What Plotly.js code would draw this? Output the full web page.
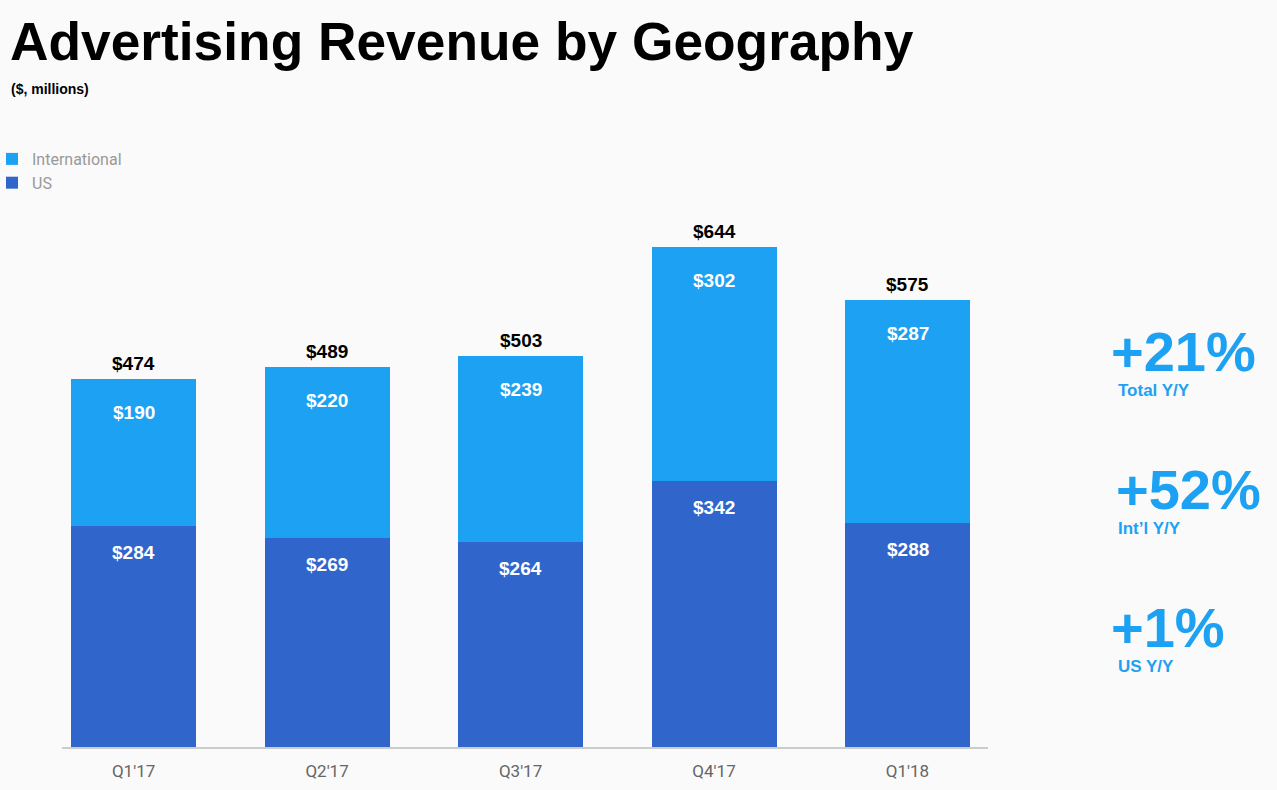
<!DOCTYPE html>
<html><head><meta charset="utf-8">
<script src="https://cdn.plot.ly/plotly-3.0.1.min.js"></script>
<style>html,body{margin:0;padding:0;background:#fafafa;}#chart{width:1277px;height:790px;}</style>
</head><body><div id="chart"></div>
<script>
const quarters = ["Q1'17", "Q2'17", "Q3'17", "Q4'17", "Q1'18"];
const usRevenue = [284, 269, 264, 342, 288];
const intlRevenue = [190, 220, 239, 302, 287];
const totalRevenue = [474, 489, 503, 644, 575];
const growthValues = ["+21%", "+52%", "+1%"];
const growthLabels = ["Total Y/Y", "Int\u2019l Y/Y", "US Y/Y"];

const blueLight = '#1DA1F2';
const blueDark = '#3066CB';
const FONT = 'Liberation Sans, Arial, sans-serif';

const traces = [
  {type:'bar', name:'US', x:quarters, y:usRevenue, marker:{color:blueDark}, width:0.646, hoverinfo:'skip'},
  {type:'bar', name:'International', x:quarters, y:intlRevenue, marker:{color:blueLight}, width:0.646, hoverinfo:'skip'}
];

// plot area geometry (px) for paper conversions
const L = 62, T = 203, W = 926, H = 544;
const px = v => (v - L) / W;
const py = v => (T + H - v) / H;

const annotations = [];
quarters.forEach((q, i) => {
  annotations.push({x:q, y:totalRevenue[i], xref:'x', yref:'y', text:'$' + totalRevenue[i], showarrow:false,
    yanchor:'bottom', yshift:3, font:{family:FONT, size:19, color:'#000', weight:'bold'}});
  annotations.push({x:q, y:usRevenue[i] + intlRevenue[i], xref:'x', yref:'y', text:'$' + intlRevenue[i], showarrow:false,
    yanchor:'top', yshift:-21, font:{family:FONT, size:19, color:'#fff', weight:'bold'}});
  annotations.push({x:q, y:usRevenue[i], xref:'x', yref:'y', text:'$' + usRevenue[i], showarrow:false,
    yanchor:'top', yshift:-14, font:{family:FONT, size:19, color:'#fff', weight:'bold'}});
});
annotations.push({xref:'paper', yref:'paper', x:px(10), y:py(89), xanchor:'left', yanchor:'middle', showarrow:false,
  borderpad:0, text:'<b>($, millions)</b>', font:{family:FONT, size:14, color:'#000'}});
const gx = [1110, 1115, 1110];
const gy = [351, 489, 627];
const lx = [1117, 1117, 1117];
const ly = [390, 528, 666];
growthValues.forEach((g, i) => {
  annotations.push({xref:'paper', yref:'paper', x:px(gx[i]), y:py(gy[i]), xanchor:'left', yanchor:'middle', showarrow:false,
    borderpad:0, height:46, valign:'middle',
    text:'<b>' + g + '</b>', font:{family:FONT, size:56, color:blueLight}});
  annotations.push({xref:'paper', yref:'paper', x:px(lx[i]), y:py(ly[i]), xanchor:'left', yanchor:'middle', showarrow:false,
    borderpad:0, height:18, valign:'middle',
    text:'<b>' + growthLabels[i] + '</b>', font:{family:FONT, size:17, color:blueLight}});
});

const layout = {
  width:1277, height:790,
  paper_bgcolor:'#fafafa', plot_bgcolor:'#fafafa',
  margin:{l:L, r:1277 - L - W, t:T, b:790 - T - H, pad:0, autoexpand:false},
  barmode:'stack',
  showlegend:true,
  legend:{x:px(-8), y:py(142), xanchor:'left', yanchor:'top', orientation:'v',
    font:{family:'Roboto, sans-serif', size:16, color:'#999'}, bgcolor:'rgba(0,0,0,0)', itemclick:false,
    tracegroupgap:0, itemwidth:30},
  title:{text:'<b>Advertising Revenue by Geography</b>', x:10/1277, xanchor:'left', xref:'container',
    y:1 - 41/790, yanchor:'middle', yref:'container', font:{family:FONT, size:53.3, color:'#000'}},
  xaxis:{type:'category', range:[-0.37, 4.416], showline:true, linecolor:'#cccccc', linewidth:2, showgrid:false,
    zeroline:false, ticks:'', ticklabelstandoff:8, tickfont:{family:'Roboto, sans-serif', size:17, color:'#666'}, fixedrange:true},
  yaxis:{range:[0, 700], visible:false, showgrid:false, zeroline:false, fixedrange:true},
  annotations:annotations
};
Plotly.newPlot('chart', traces, layout, {displayModeBar:false, staticPlot:true});
</script></body></html>
